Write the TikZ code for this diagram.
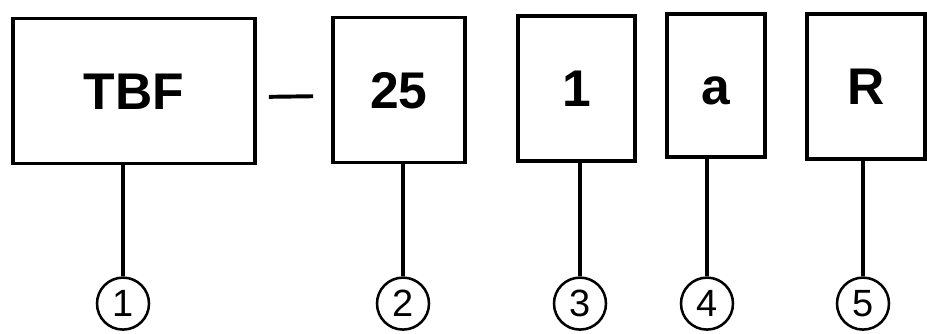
\documentclass[tikz,border=0pt]{standalone}
\usepackage{fontspec}
\setmainfont{Liberation Sans}
\usetikzlibrary{arrows.meta}
\usetikzlibrary{calc,positioning}

\begin{document}
\begin{tikzpicture}[
    field/.style={draw, line width=2.6pt, inner sep=0pt, minimum height=3.63cm,
        text height=0.93cm, text depth=0pt,
        font=\fontsize{36.7}{40}\selectfont\bfseries},
    num/.style={draw, circle, line width=1.8pt, inner sep=0pt, minimum size=1.3cm,
        font=\fontsize{27}{29}\selectfont},
    leg/.style={line width=3pt}
]

    \useasboundingbox (0,0) rectangle (23.175,8.35);

    \node[field, minimum width=6.05cm] (tbf) at (3.35,6.075) {TBF};
    \node[field, minimum width=3.3cm] (twofive) at (9.975,6.1) {25};
    \node[field, minimum width=2.925cm] (one) at (14.41,6.14) {1};
    \node[field, minimum width=2.45cm, minimum height=3.575cm] (a) at (17.9,6.21) {a};
    \node[field, minimum width=2.95cm] (r) at (21.65,6.19) {R};

    \draw[leg, line width=2.8pt, shorten <=0.3cm, shorten >=0.45cm]
        ([yshift=-0.15cm]tbf.east) -- ([yshift=-0.15cm]twofive.west);

    \node[num] (n1) at (3.075,0.76) {1};
    \node[num] (n2) at (10.075,0.76) {2};
    \node[num] (n3) at (14.5,0.76) {3};
    \node[num] (n4) at (17.675,0.76) {4};
    \node[num] (n5) at (21.575,0.76) {5};

    \draw[leg] (n1) -- (n1 |- tbf.south);
    \draw[leg] (n2) -- (n2 |- twofive.south);
    \draw[leg] (n3) -- (n3 |- one.south);
    \draw[leg, line width=2.6pt] (n4) -- (n4 |- a.south);
    \draw[leg, line width=2.6pt] (n5) -- (n5 |- r.south);

\end{tikzpicture}
\end{document}
